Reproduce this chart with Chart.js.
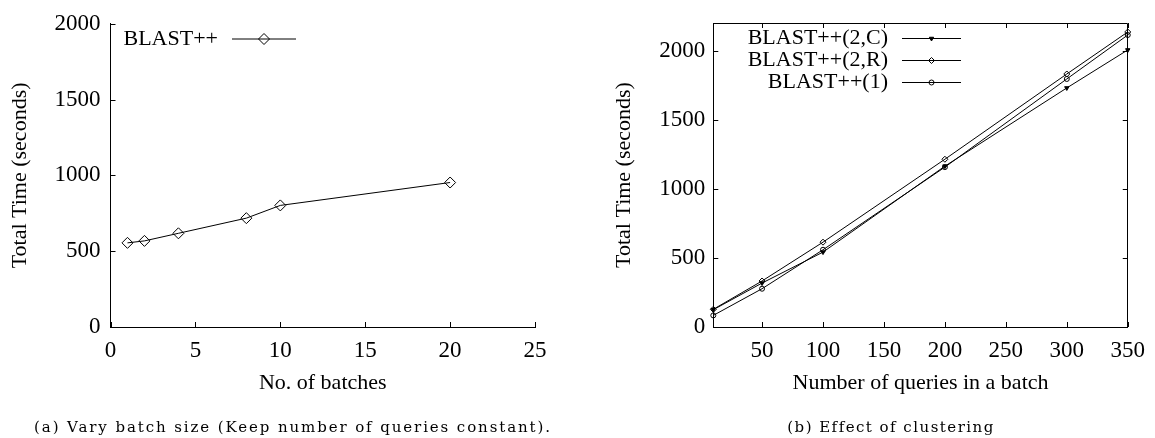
<!DOCTYPE html>
<html>
<head>
<meta charset="utf-8">
<title>BLAST++ batch timing</title>
<script src="https://cdn.jsdelivr.net/npm/chart.js@4.4.0/dist/chart.umd.min.js"></script>
<style>
  html, body { margin: 0; padding: 0; background: #fff; }
  #wrap { position: relative; width: 1155px; height: 438px; overflow: hidden; }
  #wrap canvas { position: absolute; left: 0; top: 0; }
  .caption {
    position: absolute; top: 418px; line-height: 19px;
    font-family: 'DejaVu Serif', 'Liberation Serif', serif; font-size: 15px;
    white-space: nowrap; color: #000; transform: translateX(-50%);
  }
</style>
</head>
<body>
<div id="wrap">
  <canvas id="batchChart" width="1155" height="438"></canvas>
  <canvas id="clusterChart" width="1155" height="438"></canvas>
  <div class="caption" id="capA" style="left:293px" data-width="518">(a) Vary batch size (Keep number of queries constant).</div>
  <div class="caption" id="capB" style="left:891px" data-width="207">(b) Effect of clustering</div>
</div>
<script>
// ===== Data =====
// (a) number of batches vs total time
const batchCounts = [1, 2, 4, 8, 10, 20];
const batchTimes = [555, 568, 618, 718, 802, 953];
const batchXTicks = [0, 5, 10, 15, 20, 25];
const batchYTicks = [0, 500, 1000, 1500, 2000];

// (b) queries per batch vs total time, per clustering mode
const queriesPerBatch = [10, 50, 100, 200, 300, 350];
const timeClusterC = [125, 318, 542, 1164, 1730, 2005];
const timeClusterR = [128, 333, 614, 1214, 1831, 2135];
const timeSingle = [84, 277, 559, 1157, 1795, 2113];
const clusterXTicks = [50, 100, 150, 200, 250, 300, 350];
const clusterYTicks = [0, 500, 1000, 1500, 2000];

// ===== Defaults =====
const SERIF = "'Liberation Serif', 'Times New Roman', serif";
Chart.defaults.font.family = SERIF;
Chart.defaults.font.size = 22;
Chart.defaults.color = '#000';
Chart.defaults.animation = false;

const toPoints = (xs, ys) => xs.map((x, i) => ({ x: x, y: ys[i] }));
const fixedTicks = list => scale => { scale.ticks = list.map(v => ({ value: v })); };

// ===== Plugins =====
// gnuplot style ticks pointing into the plot, optional full frame
const innerTicks = {
  id: 'innerTicks',
  beforeDatasetsDraw(chart, args, opts) {
    const { ctx, chartArea: a, scales: { x, y } } = chart;
    const len = opts.length || 5;
    const al = v => Math.round(v) + 0.5;
    ctx.save();
    ctx.strokeStyle = opts.color || '#000';
    ctx.lineWidth = 1;
    ctx.beginPath();
    if (opts.box) {
      ctx.rect(al(a.left), al(a.top), Math.round(a.right - a.left), Math.round(a.bottom - a.top));
    }
    x.ticks.forEach(t => {
      const px = al(x.getPixelForValue(t.value));
      ctx.moveTo(px, a.bottom); ctx.lineTo(px, a.bottom - len);
      if (opts.box) { ctx.moveTo(px, a.top); ctx.lineTo(px, a.top + len); }
    });
    y.ticks.forEach(t => {
      const py = al(y.getPixelForValue(t.value));
      ctx.moveTo(a.left, py); ctx.lineTo(a.left + len, py);
      if (opts.box) { ctx.moveTo(a.right, py); ctx.lineTo(a.right - len, py); }
    });
    ctx.stroke();
    ctx.restore();
  }
};

// key drawn like gnuplot: label, then a line sample with the marker in the middle
const keyLegend = {
  id: 'keyLegend',
  afterDatasetsDraw(chart, args, opts) {
    const ctx = chart.ctx;
    ctx.save();
    ctx.font = opts.fontSize + 'px ' + SERIF;
    ctx.textAlign = 'right';
    ctx.textBaseline = 'middle';
    chart.data.datasets.forEach((ds, i) => {
      const y = opts.top + i * opts.rowGap;
      ctx.fillStyle = '#000';
      ctx.fillText(ds.label, opts.textRight, y);
      ctx.strokeStyle = ds.borderColor;
      ctx.lineWidth = ds.borderWidth;
      ctx.beginPath();
      ctx.moveTo(opts.lineStart, y);
      ctx.lineTo(opts.lineEnd, y);
      ctx.stroke();
      ctx.fillStyle = ds.pointBackgroundColor;
      ctx.strokeStyle = ds.pointBorderColor;
      ctx.lineWidth = ds.pointBorderWidth;
      Chart.helpers.drawPoint(ctx, {
        pointStyle: ds.pointStyle,
        radius: ds.pointRadius,
        rotation: ds.pointRotation || 0,
        borderWidth: ds.pointBorderWidth
      }, (opts.lineStart + opts.lineEnd) / 2, y);
    });
    ctx.restore();
  }
};

function lineSeries(label, xs, ys, style, radius, filled, rotation) {
  return {
    label: label,
    data: toPoints(xs, ys),
    borderColor: '#000',
    borderWidth: 1,
    tension: 0,
    clip: false,
    pointStyle: style,
    pointRadius: radius,
    pointRotation: rotation || 0,
    pointBorderWidth: 1,
    pointBorderColor: '#000',
    pointBackgroundColor: filled ? '#000' : 'rgba(0,0,0,0)'
  };
}

function axis(min, max, tickList, opts) {
  return {
    type: 'linear',
    min: min,
    max: max,
    afterBuildTicks: fixedTicks(tickList),
    afterFit: opts.fit,
    grid: { display: false, drawTicks: false },
    border: { display: true, color: '#000', width: 1 },
    ticks: {
      padding: opts.pad, color: '#000', autoSkip: false, maxRotation: 0,
      font: { size: 23 },
      callback: v => String(v)
    },
    title: { display: true, text: opts.title, color: '#000', padding: opts.titlePad }
  };
}

// ===== (a) Vary batch size =====
new Chart(document.getElementById('batchChart'), {
  type: 'line',
  data: {
    datasets: [lineSeries('BLAST++', batchCounts, batchTimes, 'rectRot', 5.5, false)]
  },
  options: {
    responsive: false,
    events: [],
    layout: { padding: { left: 0, top: 23, right: 620, bottom: 0 } },
    plugins: {
      legend: { display: false },
      tooltip: { enabled: false },
      innerTicks: { box: false, length: 5 },
      keyLegend: { fontSize: 22, top: 39, rowGap: 22, textRight: 218, lineStart: 232, lineEnd: 296 }
    },
    scales: {
      x: axis(0, 25, batchXTicks, {
        fit: s => { s.height = 111; }, pad: 10, title: 'No. of batches',
        titlePad: { top: 0, bottom: 42 }
      }),
      y: axis(0, 2000, batchYTicks, {
        fit: s => { s.width = 110.5; }, pad: 10, title: 'Total Time (seconds)',
        titlePad: { top: 7, bottom: 0 }
      })
    }
  },
  plugins: [innerTicks, keyLegend]
});

// ===== (b) Effect of clustering =====
new Chart(document.getElementById('clusterChart'), {
  type: 'line',
  data: {
    datasets: [
      lineSeries('BLAST++(2,C)', queriesPerBatch, timeClusterC, 'triangle', 2.5, true, 180),
      lineSeries('BLAST++(2,R)', queriesPerBatch, timeClusterR, 'rectRot', 3, false),
      lineSeries('BLAST++(1)', queriesPerBatch, timeSingle, 'circle', 2.5, false)
    ]
  },
  options: {
    responsive: false,
    events: [],
    layout: { padding: { left: 600, top: 23, right: 18, bottom: 0 } },
    plugins: {
      legend: { display: false },
      tooltip: { enabled: false },
      innerTicks: { box: true, length: 5 },
      keyLegend: { fontSize: 22, top: 38.5, rowGap: 22, textRight: 888, lineStart: 902, lineEnd: 961 }
    },
    scales: {
      x: axis(10, 350, clusterXTicks, {
        fit: s => { s.height = 111; }, pad: 10, title: 'Number of queries in a batch',
        titlePad: { top: 0, bottom: 42 }
      }),
      y: axis(0, 2200, clusterYTicks, {
        fit: s => { s.width = 113.3; }, pad: 8, title: 'Total Time (seconds)',
        titlePad: { top: 11, bottom: 0 }
      })
    }
  },
  plugins: [innerTicks, keyLegend]
});

// ===== Captions: spread letters to the printed width =====
document.querySelectorAll('.caption').forEach(el => {
  const target = parseFloat(el.dataset.width);
  const natural = el.getBoundingClientRect().width;
  const gap = (target - natural) / el.textContent.length;
  el.style.letterSpacing = gap.toFixed(2) + 'px';
});
</script>
</body>
</html>
